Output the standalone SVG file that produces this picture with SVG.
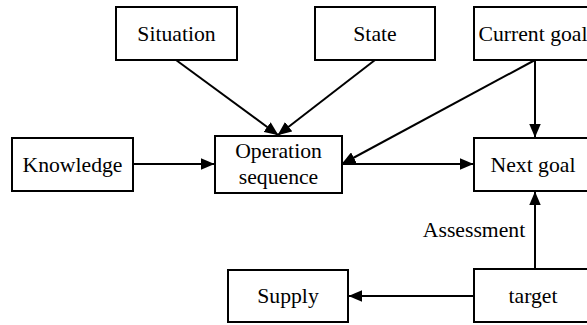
<svg xmlns="http://www.w3.org/2000/svg" width="587" height="325" viewBox="0 0 587 325">
<defs>
<marker id="ah" markerUnits="userSpaceOnUse" markerWidth="14" markerHeight="12" viewBox="0 0 13 11" refX="12.5" refY="5.5" orient="auto">
<path d="M0,0 L13,5.5 L0,11 z" fill="#000"/>
</marker>
<style>
.box{fill:#fff;stroke:#000;stroke-width:2}
.t{font-family:'Liberation Serif','DejaVu Serif',serif;font-size:21.7px;fill:#000;text-anchor:middle}
.c{fill:none;stroke:#000;stroke-width:2;marker-end:url(#ah)}
</style>
</defs>
<rect width="587" height="325" fill="#fff"/>
<g id="connectors">
<line class="c" x1="176" y1="60" x2="278" y2="135"/>
<line class="c" x1="375" y1="60" x2="278" y2="135"/>
<line class="c" x1="535" y1="60" x2="342" y2="164"/>
<line class="c" x1="535" y1="60" x2="535" y2="137"/>
<line class="c" x1="133" y1="164" x2="214" y2="164"/>
<line class="c" x1="342" y1="164" x2="473" y2="164"/>
<line class="c" x1="535" y1="269" x2="535" y2="192"/>
<line class="c" x1="474" y1="296" x2="349" y2="296"/>
<text class="t" x="474" y="237" font-family="Liberation Serif, serif">Assessment</text>
</g>
<g id="situation"><rect class="box" x="116" y="7" width="121" height="53"/><text class="t" x="176.5" y="40.5" font-family="Liberation Serif, serif">Situation</text></g>
<g id="state"><rect class="box" x="315" y="7" width="120" height="53"/><text class="t" x="375" y="40.5" font-family="Liberation Serif, serif">State</text></g>
<g id="current-goal"><rect class="box" x="474" y="7" width="122" height="53"/><text class="t" x="533" y="40.5" font-family="Liberation Serif, serif">Current goal</text></g>
<g id="knowledge"><rect class="box" x="12" y="138" width="121" height="53"/><text class="t" x="72.5" y="171.5" font-family="Liberation Serif, serif">Knowledge</text></g>
<g id="operation-sequence"><rect class="box" x="215" y="136" width="127" height="57"/><text class="t" x="278.5" y="158" font-family="Liberation Serif, serif">Operation</text><text class="t" x="278.5" y="184" font-family="Liberation Serif, serif">sequence</text></g>
<g id="next-goal"><rect class="box" x="474" y="138" width="122" height="53"/><text class="t" x="533" y="171.5" font-family="Liberation Serif, serif">Next goal</text></g>
<g id="supply"><rect class="box" x="228" y="270" width="120" height="52"/><text class="t" x="288" y="303" font-family="Liberation Serif, serif">Supply</text></g>
<g id="target"><rect class="box" x="474" y="269" width="122" height="53"/><text class="t" x="533" y="303" font-family="Liberation Serif, serif">target</text></g>
</svg>
